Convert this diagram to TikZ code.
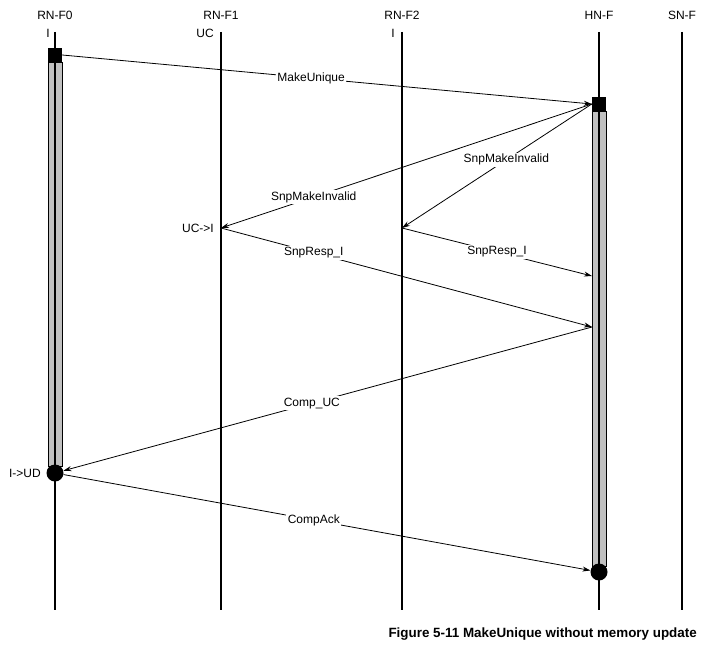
\documentclass[tikz,border=0pt]{standalone}
\usepackage{fontspec}
\setmainfont{Liberation Sans}
\usetikzlibrary{arrows.meta,positioning,calc}
\definecolor{barfill}{HTML}{C0C0C0}

\begin{document}
\begin{tikzpicture}[x=1pt,y=-1pt,font=\fontsize{12}{14}\selectfont,>={Stealth[length=8pt,width=5pt]},
  life/.style={line width=2pt},
  msg/.style={->,line width=0.8pt},
  lab/.style={fill=white,inner sep=1.5pt},
  bar/.style={draw=black,fill=barfill,line width=0.9pt},
  state/.style={anchor=east,inner sep=1pt}]
\useasboundingbox (0,0) rectangle (717,650);

%% lifelines
\foreach \n/\x/\t in {f0/55/RN-F0,f1/221/RN-F1,f2/402/RN-F2,hn/599/HN-F,sn/682/SN-F} {
  \node (\n) at (\x,15) {\t};
  \coordinate (\n top) at (\x,32);
  \coordinate (\n bot) at (\x,610);
}
\draw[bar] (48,62) rectangle (62,466);
\draw[bar] (592,111) rectangle (606,566);
\foreach \n in {f0,f1,f2,hn,sn} { \draw[life] (\n top) -- (\n bot); }

%% states
\node[state] at (51,33) {I};
\node[state] at (215,33) {UC};
\node[state] at (396,33) {I};
\node[state] at (215,228) {UC->I};
\node[state] at (42,473) {I->UD};

%% activations
\node[fill=black,minimum size=14pt,inner sep=0pt] (f0req) at (55,55) {};
\node[fill=black,minimum size=14pt,inner sep=0pt] (hnreq) at (599,104) {};
\node[circle,fill=black,minimum size=17pt,inner sep=0pt] (f0done) at (55,473) {};
\node[circle,fill=black,minimum size=17pt,inner sep=0pt] (hndone) at (599,572) {};
\coordinate (f1snp) at (221,228);
\coordinate (f2snp) at (402,228);
\coordinate (hnrsp1) at (592,327);
\coordinate (hnrsp2) at (592,276);

%% messages
\draw[msg] (f0req.east) -- (hnreq.west) node[lab,pos=0.47] {MakeUnique};
\draw[msg] (hnreq.west) -- (f1snp) node[lab,pos=0.75] {SnpMakeInvalid};
\draw[msg] (hnreq.west) -- (f2snp) node[lab,pos=0.45] {SnpMakeInvalid};
\draw[msg] (f1snp) -- (hnrsp1) node[lab,pos=0.25] {SnpResp\_I};
\draw[msg] (f2snp) -- (hnrsp2) node[lab,pos=0.5] {SnpResp\_I};
\draw[msg] (hnrsp1) -- (f0done) node[lab,pos=0.53] {Comp\_UC};
\draw[msg] (f0done) -- (hndone) node[lab,pos=0.475] {CompAck};

\node[font=\fontsize{13.4}{15}\selectfont\bfseries,anchor=west] (cap) at (385,634) {Figure 5-11 MakeUnique without memory update};
\end{tikzpicture}
\end{document}
